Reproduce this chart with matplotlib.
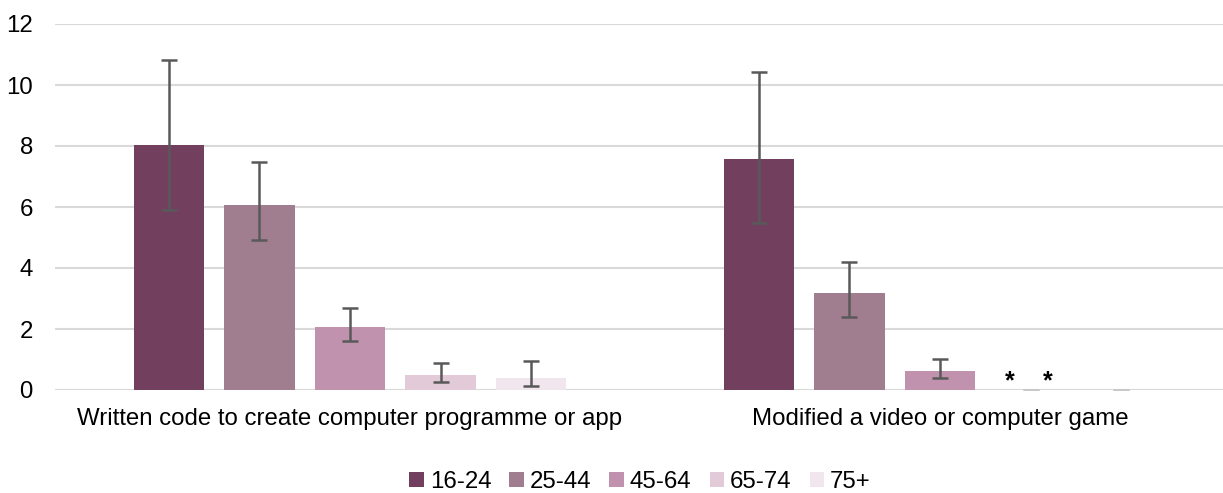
import numpy as np
import matplotlib
matplotlib.use('Agg')
import matplotlib.pyplot as plt

plt.rcParams['font.family'] = ['Liberation Sans', 'DejaVu Sans']

categories = ['Written code to create computer programme or app',
              'Modified a video or computer game']
ages = ['16-24', '25-44', '45-64', '65-74', '75+']
colors = ['#733f5e', '#a07e90', '#c192ae', '#e2cad8', '#f1e6ed']

# percentages per age group, one list per category pair (written code, modified game)
values = [[8.02, 7.57], [6.07, 3.17], [2.06, 0.61], [0.49, 0.0], [0.38, 0.0]]
err_low = [[5.90, 5.46], [4.92, 2.40], [1.61, 0.38], [0.27, 0.0], [0.14, 0.0]]
err_high = [[10.82, 10.44], [7.46, 4.20], [2.69, 1.02], [0.90, 0.0], [0.96, 0.0]]
# suppressed estimates marked with '*' in the second category
star_offsets = [0.119, 0.183]

fig = plt.figure(figsize=(12.23, 4.93), dpi=100)
ax = fig.add_axes([55 / 1223, 103 / 493, 1 - 55 / 1223, 366 / 493])

x = np.arange(len(categories))
step = 0.1534
width = 0.12
for i, age in enumerate(ages):
    pos = x + (i - 2) * step
    v = np.array(values[i])
    lo = v - np.array(err_low[i])
    hi = np.array(err_high[i]) - v
    ax.bar(pos, v, width, color=colors[i], label=age, zorder=2)
    for p, vv, l, h in zip(pos, v, lo, hi):
        ec = '#595959' if vv > 0 else '#c8c8c8'
        ax.errorbar(p, vv, yerr=[[l], [h]], fmt='none', ecolor=ec,
                    elinewidth=1.8, capsize=6, capthick=1.8, zorder=3)

for off in star_offsets:
    ax.text(x[1] + off, 0.3, '*', ha='center', va='center',
            fontsize=18, fontweight='bold', color='black')

ax.set_xlim(-0.5, 1 + (1223 - 940) / 590)
ax.set_ylim(0, 12)
ax.set_yticks(range(0, 13, 2))
ax.set_xticks(x)
ax.set_xticklabels(categories, fontsize=17.3)
ax.tick_params(axis='y', labelsize=17.3, length=0, pad=16)
ax.tick_params(axis='x', length=0, pad=13)
ax.yaxis.grid(True, color='#d9d9d9', linewidth=1.5, zorder=0)
ax.set_axisbelow(True)
for s in ax.spines.values():
    s.set_visible(False)

ax.legend(loc='center', bbox_to_anchor=(640 / 1223, 11 / 493),
          bbox_transform=fig.transFigure, ncol=5, frameon=False, fontsize=17.3,
          handlelength=0.6, handleheight=0.6, handletextpad=0.25,
          columnspacing=0.75, borderpad=0, borderaxespad=0)

fig.savefig('out.png', dpi=100)
